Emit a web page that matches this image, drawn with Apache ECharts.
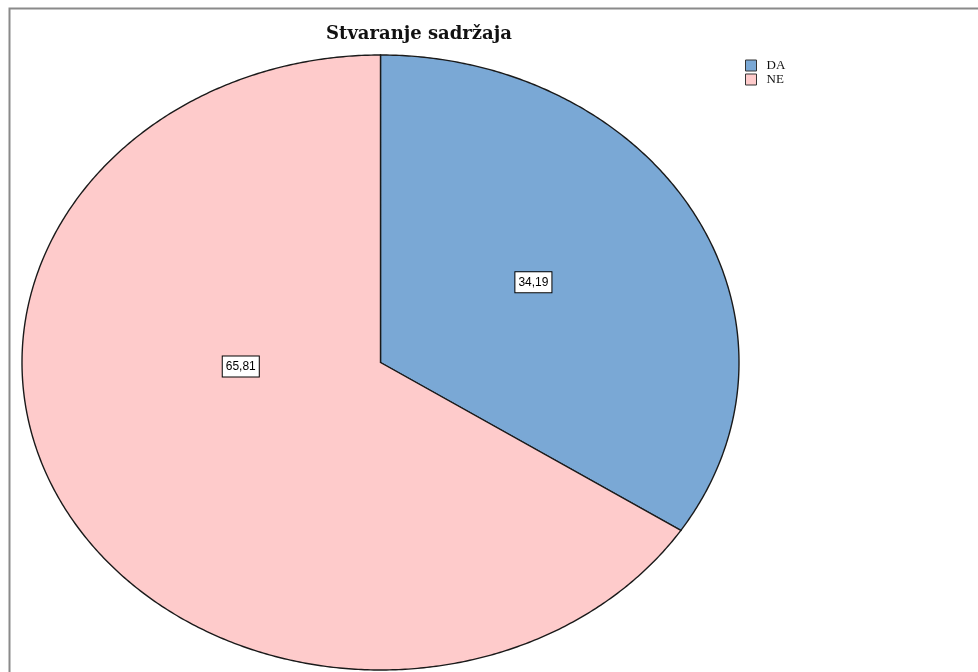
<!DOCTYPE html>
<html>
<head>
<meta charset="utf-8">
<script src="https://cdn.jsdelivr.net/npm/echarts@6/dist/echarts.min.js"></script>
<style>
html,body{margin:0;padding:0;background:#fff;}
#chart{width:978px;height:672px;}
</style>
</head>
<body>
<div id="chart"></div>
<script>
// Data
const categories = ['DA', 'NE'];
const values = [34.19, 65.81];
const valueLabels = ['34,19', '65,81'];

// Styling (not data)
const sliceColors = ['#7aa8d5', '#fecbcb'];
const labelRadius = [0.5, 0.39];
const labelAngleShift = [-3, 26.5];

const total = values.reduce((a, b) => a + b, 0);
const starts = values.map((v, i) => values.slice(0, i).reduce((a, b) => a + b, 0) / total);

function pt(frac, r) {
  const t = frac * 2 * Math.PI;
  return [r * Math.sin(t), r * Math.cos(t)];
}

function makeSeries(i) {
  return {
    type: 'custom',
    name: categories[i],
    coordinateSystem: 'cartesian2d',
    clip: false,
    itemStyle: { color: sliceColors[i] },
    data: [[values[i]]],
    renderItem: function (params, api) {
      const s = starts[i];
      const e = s + values[i] / total;
      const pts = [api.coord([0, 0])];
      const steps = Math.max(8, Math.ceil((e - s) * 720));
      for (let k = 0; k <= steps; k++) {
        pts.push(api.coord(pt(s + (e - s) * k / steps, 1)));
      }
      const mid = (s + e) / 2 + labelAngleShift[i] / 360;
      const lp = api.coord(pt(mid, labelRadius[i]));
      return {
        type: 'group',
        children: [
          {
            type: 'polygon',
            shape: { points: pts },
            style: { fill: sliceColors[i], stroke: '#1a1a1a', lineWidth: 1.4 }
          },
          {
            type: 'text',
            x: lp[0],
            y: lp[1],
            z2: 10,
            style: {
              text: valueLabels[i],
              align: 'center',
              verticalAlign: 'middle',
              font: '12px "Liberation Sans", Arial, sans-serif',
              fill: '#000',
              backgroundColor: '#fff',
              borderColor: '#000',
              borderWidth: 1,
              padding: [4, 3, 4, 3]
            }
          }
        ]
      };
    }
  };
}

const chart = echarts.init(document.getElementById('chart'), null, { renderer: 'canvas' });
chart.setOption({
  animation: false,
  backgroundColor: '#fff',
  title: {
    text: 'Stvaranje sadržaja',
    left: 414,
    top: 20,
    textAlign: 'center',
    textStyle: {
      fontFamily: '"DejaVu Serif", serif',
      fontWeight: 'bold',
      fontSize: 18,
      color: '#111'
    }
  },
  legend: {
    orient: 'vertical',
    left: 740,
    top: 54,
    icon: 'rect',
    itemWidth: 11,
    itemHeight: 11,
    itemGap: 1,
    data: categories,
    itemStyle: { borderColor: '#333', borderWidth: 1 },
    textStyle: {
      fontFamily: '"Liberation Serif", "Times New Roman", serif',
      fontSize: 13,
      color: '#111',
      padding: [0, 0, 0, 5]
    }
  },
  grid: { left: 22, top: 55, width: 717, height: 615 },
  xAxis: { type: 'value', min: -1, max: 1, show: false },
  yAxis: { type: 'value', min: -1, max: 1, show: false },
  series: categories.map((c, i) => makeSeries(i)),
  graphic: [
    {
      type: 'rect',
      shape: { x: 9.5, y: 8.5, width: 1000, height: 700 },
      style: { fill: null, stroke: '#8a8a8a', lineWidth: 2 },
      silent: true,
      z: 100
    }
  ]
});
</script>
</body>
</html>
